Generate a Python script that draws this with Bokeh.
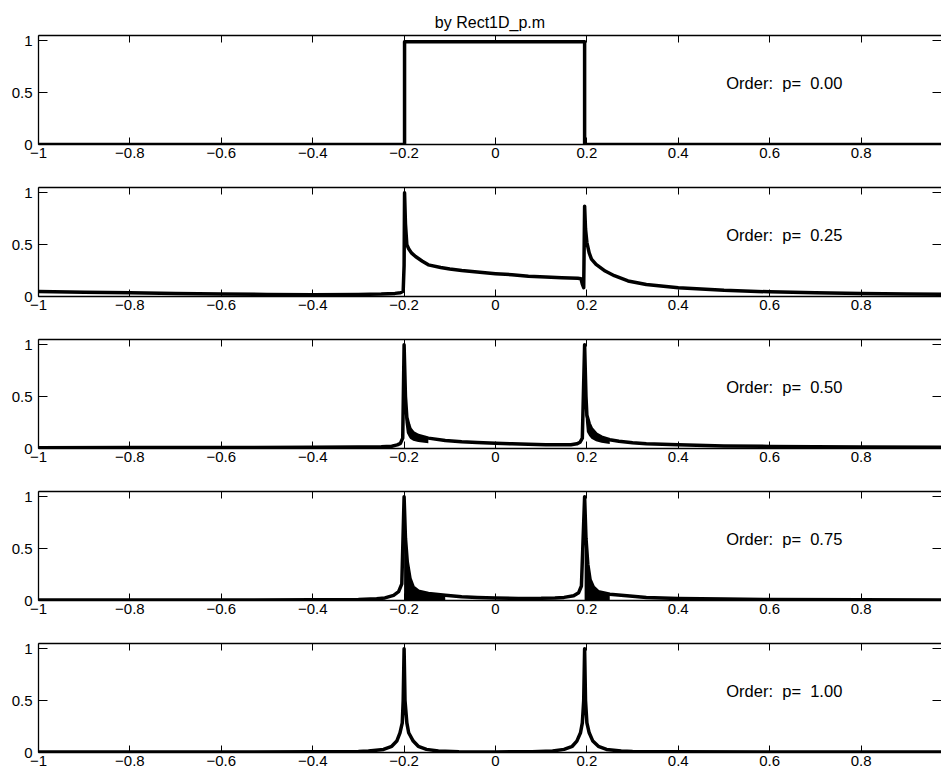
import numpy as np
from bokeh.plotting import figure
from bokeh.layouts import column
from bokeh.models import LinearAxis, FixedTicker, Range1d, Label, Title
from bokeh.embed import file_html
from bokeh.resources import INLINE

# ---------------- data ----------------
TITLE_TEXT = "by Rect1D_p.m"
ORDER_LABELS = ["Order:\u00a0\u00a0p=\u00a0\u00a00.00", "Order:\u00a0\u00a0p=\u00a0\u00a00.25",
                "Order:\u00a0\u00a0p=\u00a0\u00a00.50", "Order:\u00a0\u00a0p=\u00a0\u00a00.75",
                "Order:\u00a0\u00a0p=\u00a0\u00a01.00"]

X_TICKS = [-1.0, -0.8, -0.6, -0.4, -0.2, 0.0, 0.2, 0.4, 0.6, 0.8, 1.0]
X_TICK_LABELS = ["\u22121", "\u22120.8", "\u22120.6", "\u22120.4", "\u22120.2", "0",
                 "0.2", "0.4", "0.6", "0.8", "1"]
Y_TICKS = [0.0, 0.5, 1.0]
Y_TICK_LABELS = ["0", "0.5", "1"]

# p = 0.00
x_p000 = [-1.0, -0.199, -0.199, 0.195, 0.195, 1.0]
y_p000 = [0.0, 0.0, 0.99, 0.99, 0.0, 0.0]

# p = 0.25
x_p025 = [-1.0, -0.9, -0.8, -0.7, -0.6, -0.5, -0.4, -0.3,
          -0.25, -0.22, -0.208, -0.202, -0.2, -0.199, -0.197, -0.194, -0.19, -0.184,
          -0.175, -0.16, -0.147, -0.12, -0.1, -0.074, -0.04, 0.0,
          0.036, 0.072, 0.11, 0.145, 0.18, 0.187, 0.19, 0.193, 0.195, 0.197,
          0.2, 0.205, 0.21, 0.22, 0.24, 0.26, 0.29, 0.33,
          0.4, 0.5, 0.6, 0.7, 0.8, 0.9, 1.0]
y_p025 = [0.048, 0.042, 0.036, 0.03, 0.025, 0.02, 0.018, 0.02,
          0.024, 0.03, 0.036, 0.05, 0.3, 1.0, 0.7, 0.5, 0.46, 0.42,
          0.385, 0.34, 0.305, 0.28, 0.265, 0.25, 0.235, 0.22,
          0.21, 0.195, 0.188, 0.18, 0.175, 0.17, 0.12, 0.085, 0.87, 0.65,
          0.52, 0.42, 0.36, 0.31, 0.245, 0.2, 0.15, 0.115,
          0.085, 0.06, 0.045, 0.037, 0.03, 0.025, 0.022]

# p = 0.50
x_p050 = [-1.0, -0.8, -0.6, -0.4, -0.3, -0.25, -0.227, -0.215, -0.208, -0.203,
          -0.2, -0.197, -0.194, -0.19, -0.187, -0.18, -0.169, -0.147, -0.11, -0.074,
          -0.04, 0.0, 0.036, 0.072, 0.11, 0.145, 0.165, 0.178, 0.185, 0.19,
          0.195, 0.198, 0.2, 0.205, 0.21, 0.22, 0.232, 0.25, 0.27, 0.3,
          0.33, 0.4, 0.5, 0.6, 0.8, 1.0]
y_p050 = [0.008, 0.009, 0.01, 0.012, 0.015, 0.018, 0.022, 0.035, 0.05, 0.1,
          1.0, 0.5, 0.3, 0.23, 0.19, 0.15, 0.125, 0.1, 0.078, 0.065,
          0.057, 0.05, 0.045, 0.04, 0.037, 0.035, 0.036, 0.045, 0.06, 0.1,
          1.0, 0.5, 0.32, 0.24, 0.19, 0.14, 0.11, 0.085, 0.07, 0.055,
          0.046, 0.035, 0.025, 0.02, 0.015, 0.012]

# p = 0.75
x_p075 = [-1.0, -0.8, -0.6, -0.4, -0.3, -0.26, -0.242, -0.223, -0.212, -0.205,
          -0.2, -0.197, -0.193, -0.187, -0.18, -0.169, -0.147, -0.11, -0.074, -0.04,
          0.0, 0.05, 0.1, 0.13, 0.15, 0.171, 0.182, 0.188, 0.195, 0.198,
          0.202, 0.207, 0.214, 0.225, 0.25, 0.3, 0.33, 0.4, 0.5, 0.6,
          0.8, 1.0]
y_p075 = [0.004, 0.004, 0.005, 0.007, 0.01, 0.016, 0.025, 0.05, 0.085, 0.16,
          1.0, 0.6, 0.37, 0.21, 0.13, 0.09, 0.067, 0.05, 0.035, 0.028,
          0.023, 0.02, 0.021, 0.025, 0.03, 0.045, 0.075, 0.14, 1.0, 0.6,
          0.35, 0.2, 0.13, 0.085, 0.06, 0.04, 0.03, 0.02, 0.014, 0.01,
          0.007, 0.005]

# p = 1.00
x_p100 = [-1.0, -0.6, -0.4, -0.3, -0.278, -0.245, -0.227, -0.216, -0.209, -0.204,
          -0.202, -0.2, -0.198, -0.194, -0.19, -0.18, -0.169, -0.151, -0.125, -0.08,
          0.0, 0.08, 0.125, 0.15, 0.168, 0.178, 0.186, 0.19, 0.193, 0.195,
          0.197, 0.2, 0.205, 0.213, 0.225, 0.243, 0.275, 0.3, 0.4, 0.6,
          1.0]
y_p100 = [0.004, 0.005, 0.007, 0.01, 0.015, 0.03, 0.06, 0.11, 0.19, 0.285,
          0.5, 1.0, 0.5, 0.285, 0.19, 0.11, 0.06, 0.03, 0.015, 0.008,
          0.005, 0.008, 0.015, 0.03, 0.06, 0.11, 0.19, 0.285, 0.5, 1.0,
          0.5, 0.285, 0.19, 0.11, 0.06, 0.03, 0.015, 0.01, 0.007, 0.005,
          0.004]

SERIES = [(x_p000, y_p000), (x_p025, y_p025), (x_p050, y_p050),
          (x_p075, y_p075), (x_p100, y_p100)]
for xs, ys in SERIES:
    assert len(xs) == len(ys)

# ---------------- layout / style ----------------
FW, FH = 903, 109
X_START = -1.0
X_END = -1.0 + FW / 457.0
Y_START, Y_END = 0.0, 1.05
FONT = "Liberation Sans"


def style_axis(ax, tick_len, show_labels, line=True):
    ax.major_tick_in = tick_len
    ax.major_tick_out = 0
    ax.minor_tick_line_color = None
    ax.major_tick_line_color = "black"
    ax.major_tick_line_width = 1
    ax.axis_line_color = "black" if line else None
    ax.axis_line_width = 1.3
    ax.major_label_text_font = FONT
    ax.major_label_text_color = "black"
    if show_labels:
        ax.major_label_text_font_size = "15px"
    else:
        ax.major_label_text_font_size = "1px"
        ax.major_label_standoff = 0


def make_panel(i):
    xs, ys = SERIES[i]
    first = i == 0
    last = i == len(SERIES) - 1
    p = figure(frame_width=FW, frame_height=FH,
               x_range=Range1d(X_START, X_END), y_range=Range1d(Y_START, Y_END),
               x_axis_type=None, y_axis_type=None,
               output_backend="svg", toolbar_location=None,
               min_border_left=38, min_border_right=0,
               min_border_top=35 if first else 4,
               min_border_bottom=19 if last else 39,
               outline_line_color=None,
               background_fill_color="white", border_fill_color="white")

    # axes (Matlab-like box with inward ticks)
    xb = LinearAxis(ticker=FixedTicker(ticks=X_TICKS),
                    major_label_overrides={t: l for t, l in zip(X_TICKS, X_TICK_LABELS)})
    style_axis(xb, 7, True)
    xb.major_label_standoff = 3
    p.add_layout(xb, "below")

    xt = LinearAxis(ticker=FixedTicker(ticks=X_TICKS),
                    major_label_overrides={t: "" for t in X_TICKS})
    style_axis(xt, 7, False)
    p.add_layout(xt, "above")

    yl = LinearAxis(ticker=FixedTicker(ticks=Y_TICKS),
                    major_label_overrides={t: l for t, l in zip(Y_TICKS, Y_TICK_LABELS)})
    style_axis(yl, 9, True)
    yl.major_label_standoff = 6
    p.add_layout(yl, "left")

    yr = LinearAxis(ticker=FixedTicker(ticks=Y_TICKS),
                    major_label_overrides={t: "" for t in Y_TICKS})
    style_axis(yr, 9, False, line=False)
    p.add_layout(yr, "right")

    xa = np.asarray(xs)
    ya = np.asarray(ys)

    # dense oscillation regions (rendered as filled bands in the original)
    if i in (2, 3):
        width = 0.06 if i == 2 else 0.1
        lo_scale = 0.5 if i == 2 else 0.0
        for peak in (-0.2, 0.195):
            m = (xa >= peak) & (xa <= peak + width)
            p.varea(x=xa[m], y1=ya[m] * lo_scale, y2=ya[m], fill_color="black")

    p.line(xa, ya, line_color="black", line_width=3.5, line_join="round")

    p.add_layout(Label(x=0.505, y=0.59, text=ORDER_LABELS[i], text_font=FONT,
                       text_font_size="16.5px", text_color="black",
                       text_align="left", text_baseline="middle"))

    if first:
        p.title = Title(text=TITLE_TEXT, align="center", offset=12,
                        text_font=FONT, text_font_size="16px",
                        text_font_style="normal", text_color="black", standoff=10)
    return p


panels = [make_panel(i) for i in range(len(SERIES))]
layout = column(*panels, spacing=0)

open("out.html", "w").write(file_html(layout, INLINE, "Rect1D_p"))
